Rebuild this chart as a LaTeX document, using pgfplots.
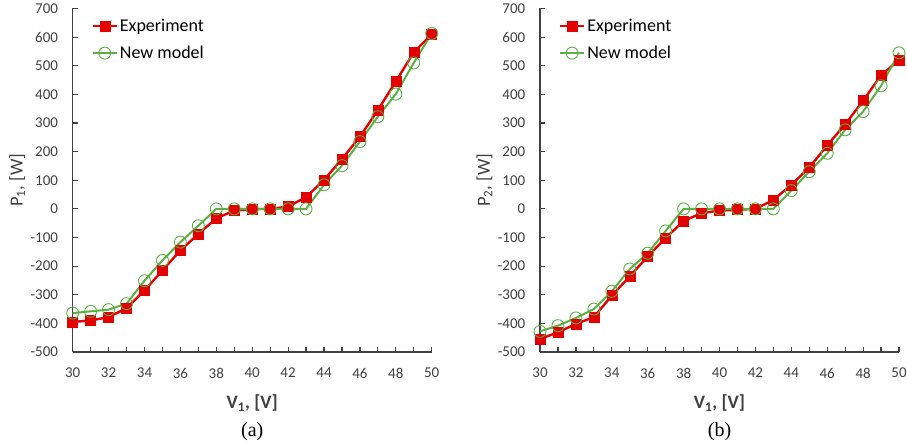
\documentclass[border=0pt]{standalone}
\usepackage{fontspec}
\setmainfont{Carlito}
\newfontfamily\capfont{Liberation Serif}
\usepackage{pgfplots}
\pgfplotsset{compat=1.18}

\definecolor{expred}{RGB}{226,0,0}
\definecolor{modgreen}{RGB}{92,175,69}
\definecolor{axgray}{RGB}{64,64,64}

% experiment and model, panel (a)
\pgfplotstableread{
V P
30 -395
31 -390
32 -378
33 -347
34 -285
35 -215
36 -145
37 -88
38 -33
39 -6
40 -1
41 0
42 8
43 41
44 101
45 174
46 252
47 345
48 445
49 547
50 610
}\expA
\pgfplotstableread{
V P
30 -364
31 -358
32 -352
33 -331
34 -251
35 -180
36 -116
37 -59
38 0
39 0
40 0
41 0
42 0
43 0
44 84
45 151
46 235
47 322
48 401
49 510
50 613
}\modA
% panel (b)
\pgfplotstableread{
V P
30 -455
31 -431
32 -402
33 -378
34 -303
35 -236
36 -166
37 -102
38 -42
39 -15
40 -6
41 -3
42 0
43 31
44 84
45 144
46 222
47 295
48 378
49 467
50 520
}\expB
\pgfplotstableread{
V P
30 -428
31 -408
32 -381
33 -350
34 -288
35 -210
36 -155
37 -77
38 0
39 0
40 0
41 0
42 0
43 0
44 64
45 130
46 194
47 276
48 340
49 430
50 545
}\modB

\pgfplotsset{
  panel/.style={
    scale only axis,
    width=359bp, height=343.5bp,
    xmin=30, xmax=50, ymin=-500, ymax=700,
    axis x line*=bottom, axis y line*=left,
    axis line style={axgray, line width=1.5bp},
    tick align=inside,
    major tick length=5bp, minor tick length=5bp,
    tick style={axgray, line width=1.2bp},
    xtick={30,32,...,50},
    xticklabels={30,32,34,36,38,40,42,44,46,48,50},
    minor xtick={31,33,...,49},
    ytick={-500,-400,...,700},
    yticklabels={-500,-400,-300,-200,-100,0,100,200,300,400,500,600,700},
    xticklabel style={font=\fontsize{15bp}{18bp}\selectfont, text=axgray, anchor=center, inner sep=0pt, yshift=-21bp},
    yticklabel style={font=\fontsize{15bp}{18bp}\selectfont, text=axgray, anchor=east, inner sep=0pt, xshift=-14.5bp},
    every axis x label/.style={at={(axis description cs:0.5,0)}, yshift=-51bp, anchor=center,
      font=\bfseries\fontsize{19bp}{22bp}\selectfont, text=axgray},
    every axis y label/.style={at={(axis description cs:0,0.5)}, xshift=-55.5bp, rotate=90, anchor=center,
      font=\fontsize{18.5bp}{22bp}\selectfont, text=axgray},
    legend cell align=left,
    legend style={draw=none, fill=none, at={(axis description cs:0.052,0.975)}, anchor=north west,
      font=\fontsize{18bp}{22bp}\selectfont, text=black, row sep=9bp, inner sep=0pt},
    clip=false,
  },
  expstyle/.style={expred, line width=2.4bp, mark=square*, mark size=5bp, mark options={fill=expred, draw=expred, line width=0.5bp}},
  modstyle/.style={modgreen, line width=2bp, mark=o, mark size=6bp, mark options={draw=modgreen, line width=0.9bp, fill=none}},
  legend image code/.code={\draw[mark repeat=2, mark phase=2] plot coordinates {(0bp,0bp) (12bp,0bp) (24bp,0bp)};},
}

\begin{document}
\begin{tikzpicture}
\begin{axis}[panel, name=pa, at={(0bp,0bp)},
  xlabel={V\textsubscript{1}, [V]}, ylabel={P\textsubscript{1}, [W]}]
\addplot[expstyle] table[x=V, y=P] {\expA};
\addlegendentry{Experiment}
\addplot[modstyle] table[x=V, y=P] {\modA};
\addlegendentry{New model}
\end{axis}
\begin{axis}[panel, name=pb, at={(467.3bp,0bp)},
  xlabel={V\textsubscript{1}, [V]}, ylabel={P\textsubscript{2}, [W]}]
\addplot[expstyle] table[x=V, y=P] {\expB};
\addlegendentry{Experiment}
\addplot[modstyle] table[x=V, y=P] {\modB};
\addlegendentry{New model}
\end{axis}
\node[font=\capfont\fontsize{20bp}{24bp}\selectfont] at ([yshift=-80bp]pa.south) {(a)};
\node[font=\capfont\fontsize{20bp}{24bp}\selectfont] at ([yshift=-80bp]pb.south) {(b)};
\pgfresetboundingbox
\path[use as bounding box] (-72.7bp,-95bp) rectangle (834.3bp,352bp);
\end{tikzpicture}
\end{document}
